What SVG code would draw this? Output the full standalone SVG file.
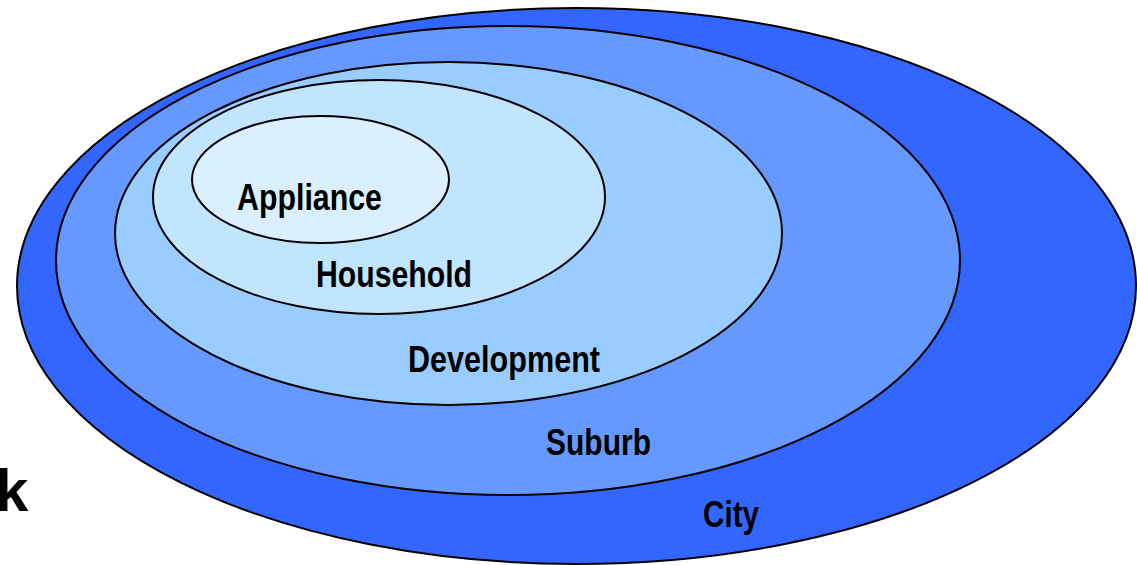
<svg xmlns="http://www.w3.org/2000/svg" width="1137" height="565" viewBox="0 0 1137 565">
<style>
.ring{stroke:#000;stroke-width:2}
.lbl{font-family:"Liberation Sans",Arial,sans-serif;font-weight:bold;font-size:37px;fill:#000}
</style>
<rect width="1137" height="565" fill="#fff"/>
<g id="city"><ellipse class="ring" cx="576.5" cy="286" rx="559.5" ry="278" fill="#3366FF"/></g>
<g id="suburb"><ellipse class="ring" cx="508" cy="260.5" rx="452" ry="234.5" fill="#6699FF"/></g>
<g id="development"><ellipse class="ring" cx="448.5" cy="233.5" rx="333.5" ry="171.5" fill="#99CCFF"/></g>
<g id="household"><ellipse class="ring" cx="379" cy="197" rx="226" ry="117" fill="#C2E5FF"/></g>
<g id="appliance"><ellipse class="ring" cx="320.5" cy="179.5" rx="128.5" ry="63.5" fill="#DAF0FF"/></g>
<g id="labels">
<text class="lbl" x="237" y="210" textLength="145" lengthAdjust="spacingAndGlyphs">Appliance</text>
<text class="lbl" x="316" y="287" textLength="156" lengthAdjust="spacingAndGlyphs">Household</text>
<text class="lbl" x="408" y="372" textLength="192" lengthAdjust="spacingAndGlyphs">Development</text>
<text class="lbl" x="546" y="455" textLength="105" lengthAdjust="spacingAndGlyphs">Suburb</text>
<text class="lbl" x="703" y="527" textLength="56" lengthAdjust="spacingAndGlyphs">City</text>
<text class="lbl" style="font-size:60px" x="-5" y="511">k</text>
</g>
</svg>
